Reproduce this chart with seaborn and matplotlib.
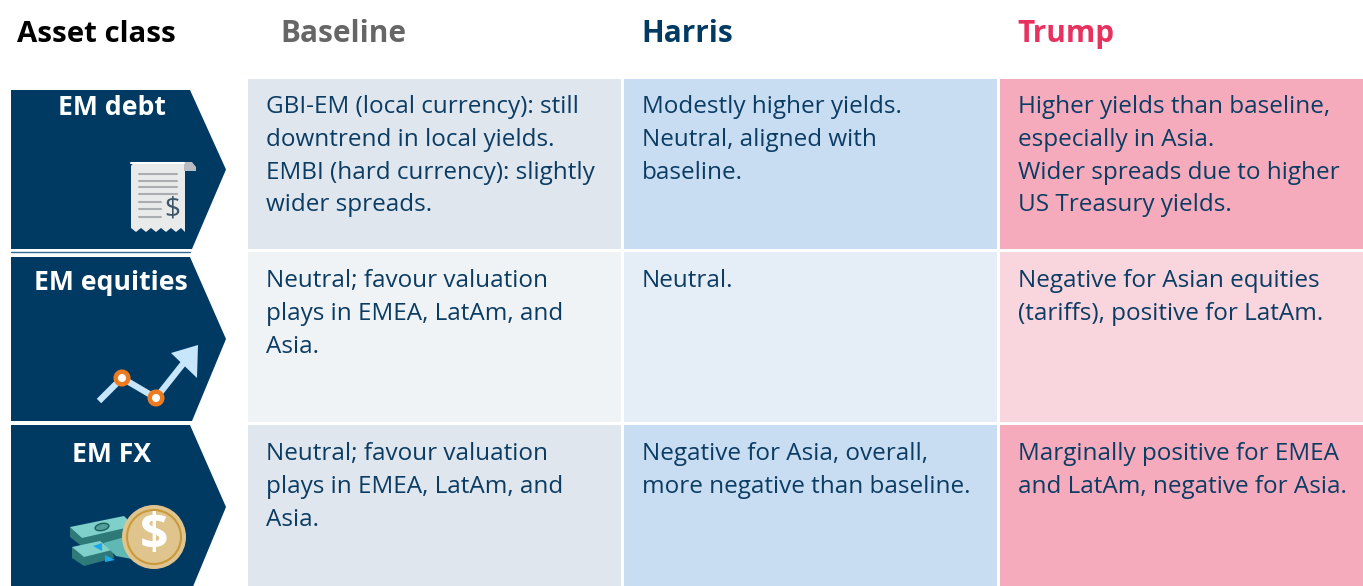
import numpy as np
import pandas as pd
import seaborn as sns
import matplotlib.pyplot as plt
from matplotlib.colors import ListedColormap
from matplotlib.patches import Polygon, Circle, Ellipse

# table content
columns = ['Baseline', 'Harris', 'Trump']
asset_classes = ['EM debt', 'EM equities', 'EM FX']
baseline_text = [
    'GBI-EM (local currency): still\ndowntrend in local yields.\nEMBI (hard currency): slightly\nwider spreads.',
    'Neutral; favour valuation\nplays in EMEA, LatAm, and\nAsia.',
    'Neutral; favour valuation\nplays in EMEA, LatAm, and\nAsia.',
]
harris_text = [
    'Modestly higher yields.\nNeutral, aligned with\nbaseline.',
    'Neutral.',
    'Negative for Asia, overall,\nmore negative than baseline.',
]
trump_text = [
    'Higher yields than baseline,\nespecially in Asia.\nWider spreads due to higher\nUS Treasury yields.',
    'Negative for Asian equities\n(tariffs), positive for LatAm.',
    'Marginally positive for EMEA\nand LatAm, negative for Asia.',
]
cell_shades = [[0, 2, 4], [1, 3, 5], [0, 2, 4]]
shade_colors = ['#dfe6ee', '#eff3f6', '#c9ddf2', '#e5edf7', '#f6abbd', '#f9d5de']
header_colors = ['#666666', '#003a63', '#e8315f']

NAVY = '#003a63'
TEXT = '#0b3c63'
W, H = 1363, 586

sns.set_theme(style='white')
plt.rcParams['font.family'] = ['Open Sans', 'Noto Sans', 'DejaVu Sans']

fig = plt.figure(figsize=(W / 100, H / 100), dpi=100)

# grid of coloured cells, runs past the right and bottom edge like the original
hm_ax = fig.add_axes([246.2 / W, (H - 76.6 - 519.6) / H, 1128 / W, 519.6 / H])
df = pd.DataFrame(cell_shades, index=asset_classes, columns=columns)
sns.heatmap(df, ax=hm_ax, cmap=ListedColormap(shade_colors), vmin=-0.5, vmax=5.5,
            cbar=False, linewidths=1.9, linecolor='white', xticklabels=False, yticklabels=False)
hm_ax.set_xlabel('')
hm_ax.set_ylabel('')

ax = fig.add_axes([0, 0, 1, 1], zorder=5)
ax.set_xlim(0, W)
ax.set_ylim(H, 0)
ax.axis('off')
ax.patch.set_alpha(0)

# header row
ax.text(17, 34, 'Asset class', fontsize=21.2, fontweight='bold', color='black', va='center')
for x, name, c in zip([280, 641, 1017], columns, header_colors):
    ax.text(x, 34, name, fontsize=21.4, fontweight='bold', color=c, va='center')

# cell text
line_h = 32.8
for x, texts in zip([265.5, 642, 1018], [baseline_text, harris_text, trump_text]):
    for y0, t in zip([107, 281, 454], texts):
        for i, line in enumerate(t.split('\n')):
            ax.text(x, y0 + i * line_h, line, fontsize=17.5, color=TEXT, va='center')

# arrow shaped row labels
arrows = [(90, 249), (257, 421), (425, 589)]
label_pos = [(112, 108), (111, 283), (112, 455)]
for (top, bot), name, (lx, ly) in zip(arrows, asset_classes, label_pos):
    mid = (top + bot) / 2
    ax.add_patch(Polygon([(11, top), (190, top), (226, mid), (192, bot), (11, bot)],
                         closed=True, fc=NAVY, ec='none'))
    ax.text(lx, ly, name, fontsize=19.2, fontweight='bold', color='white', ha='center', va='center')
ax.plot([11, 190], [252, 252], color='#2f6a93', lw=1)

# receipt icon
teeth = [(185, 232), (181, 228), (176, 232), (171, 228), (166, 232), (161, 228),
         (156, 232), (151, 228), (146, 232), (141, 228), (136, 232), (131, 228)]
ax.add_patch(Polygon([(131, 166), (134, 162), (185, 162), (185, 171)] + teeth,
                     closed=True, fc='#e9ebeb', ec='none'))
ax.add_patch(Polygon([(184, 162), (192, 162), (196, 167), (196, 171), (184, 171)],
                     closed=True, fc='#b9bdc2', ec='none'))
ax.plot([131, 184], [163, 163], color='white', lw=1.5)
for y in [174, 181, 187, 194]:
    ax.plot([139, 177], [y, y], color='#a9adb0', lw=1.5)
for y in [202, 209, 217]:
    ax.plot([139, 161], [y, y], color='#a9adb0', lw=1.5)
ax.text(172, 210, '$', fontsize=20, color='#3a5568', ha='center', va='center')

# trend icon
ax.plot([99, 122, 156, 190], [401, 378, 398, 355], color='#c7e6fb', lw=4.5, solid_capstyle='butt')
ax.add_patch(Polygon([(171, 353), (198, 345), (197, 378)], closed=True, fc='#c7e6fb', ec='none'))
for cx, cy in [(122, 378), (156, 398)]:
    ax.add_patch(Circle((cx, cy), 6.3, fc='white', ec='#ee7a1f', lw=3.2, zorder=5))

# cash icon
ax.add_patch(Polygon([(70, 527), (70, 537), (84, 548), (132, 536), (130, 528)], closed=True, fc='#2d7a78', ec='none'))
ax.add_patch(Polygon([(70, 527), (124, 516), (134, 526), (82, 538)], closed=True, fc='#7fcfcb', ec='none'))
ax.add_patch(Ellipse((102, 527), 14, 7, angle=-12, fc='#4f9f9b', ec='#1f5f5d', lw=1))
ax.add_patch(Polygon([(72, 547), (72, 558), (84, 566), (114, 558), (112, 548)], closed=True, fc='#2d7a78', ec='none'))
ax.add_patch(Polygon([(72, 547), (100, 541), (112, 550), (84, 557)], closed=True, fc='#7fcfcb', ec='none'))
ax.add_patch(Polygon([(103, 543), (125, 537), (137, 548), (137, 560), (116, 556)], closed=True, fc='#5fb8b3', ec='none'))
ax.add_patch(Polygon([(93, 546), (102, 543), (102, 551)], closed=True, fc='#1ca8e8', ec='none'))
ax.add_patch(Polygon([(105, 555), (115, 560), (105, 562)], closed=True, fc='#1ca8e8', ec='none'))
ax.add_patch(Circle((154, 537), 32, fc='#e0c48e', ec='none', zorder=5))
ax.add_patch(Circle((154, 537), 27, fc='none', ec='#c99a3c', lw=1.5, zorder=6))
ax.text(154, 536, '$', fontsize=36, fontweight='bold', color='white', ha='center', va='center', zorder=7)

fig.savefig('out.png', dpi=100)
